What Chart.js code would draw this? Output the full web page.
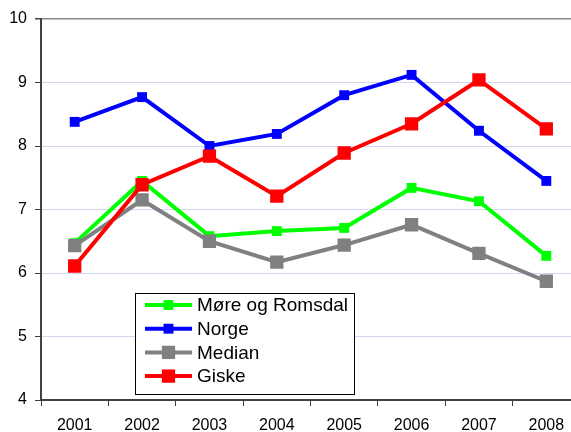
<!DOCTYPE html>
<html>
<head>
<meta charset="utf-8">
<script src="https://cdn.jsdelivr.net/npm/chart.js@4/dist/chart.umd.min.js"></script>
<style>
  html, body { margin: 0; padding: 0; background: #fff; overflow: hidden; }
  #wrap { position: relative; width: 590px; height: 432px; }
</style>
</head>
<body>
<div id="wrap"><canvas id="chart"></canvas></div>
<script>
const years = ['2001', '2002', '2003', '2004', '2005', '2006', '2007', '2008'];
const moreRomsdal = [6.47, 7.45, 6.58, 6.66, 6.71, 7.34, 7.13, 6.27];
const norge       = [8.38, 8.77, 8.00, 8.19, 8.80, 9.12, 8.24, 7.45];
const median      = [6.43, 7.15, 6.50, 6.17, 6.44, 6.76, 6.31, 5.87];
const giske       = [6.11, 7.39, 7.84, 7.21, 7.89, 8.35, 9.04, 8.27];

const FONT = "'Liberation Sans', Arial, sans-serif";

function series(label, data, color, radius, order) {
  return {
    label, data, order,
    borderColor: color,
    backgroundColor: color,
    pointBackgroundColor: color,
    pointBorderWidth: 0,
    pointStyle: 'rect',
    pointRadius: radius,
    pointHoverRadius: radius,
    borderWidth: 4,
    tension: 0,
    fill: false,
  };
}

// legend box drawn inside the plot, like the original
const boxLegend = {
  id: 'boxLegend',
  afterDraw(chart) {
    const ctx = chart.ctx;
    const x = 135.5, y = 293.5, w = 219, h = 101;
    ctx.save();
    ctx.fillStyle = '#fff';
    ctx.fillRect(x, y, w, h);
    ctx.strokeStyle = '#000';
    ctx.lineWidth = 1;
    ctx.strokeRect(x, y, w, h);
    ctx.font = '19px ' + FONT;
    ctx.textBaseline = 'middle';
    [0, 1, 2, 3].forEach((i) => {
      const ds = chart.data.datasets[i];
      const cy = 305 + i * 23.7;
      ctx.strokeStyle = ds.borderColor;
      ctx.lineWidth = 4;
      ctx.beginPath();
      ctx.moveTo(145, cy);
      ctx.lineTo(192, cy);
      ctx.stroke();
      const s = ds.pointRadius * Math.SQRT2;
      ctx.fillStyle = ds.borderColor;
      ctx.fillRect(168.5 - s / 2, cy - s / 2, s, s);
      ctx.fillStyle = '#000';
      ctx.fillText(ds.label, 197, cy + 1);
    });
    ctx.restore();
  },
};

new Chart(document.getElementById('chart').getContext('2d'), {
  type: 'line',
  data: {
    labels: years,
    datasets: [
      series('Møre og Romsdal', moreRomsdal, '#00ff00', 7, 3),
      series('Norge', norge, '#0000ff', 7, 2),
      series('Median', median, '#808080', 9.4, 1),
      series('Giske', giske, '#ff0000', 9.4, 0),
    ],
  },
  options: {
    responsive: true,
    maintainAspectRatio: false,
    animation: false,
    layout: { padding: { top: 19, right: 10, left: 0, bottom: 0 } },
    plugins: {
      legend: { display: false },
      tooltip: { enabled: false },
    },
    scales: {
      x: {
        offset: true,
        grid: { offset: true, drawOnChartArea: false, drawTicks: true, tickLength: 6, tickColor: '#404040' },
        border: { display: true, color: '#404040', width: 2 },
        ticks: { color: '#000', font: { family: FONT, size: 16 }, padding: 10, maxRotation: 0 },
        afterFit: (s) => { s.height = 32; },
      },
      y: {
        min: 4,
        max: 10,
        ticks: { stepSize: 1, color: '#000', font: { family: FONT, size: 16 }, padding: 8 },
        grid: {
          color: (c) => (c.tick && c.tick.value === 10 ? '#888888' : '#d4d4f6'),
          lineWidth: (c) => (c.tick && c.tick.value === 10 ? 1.5 : 1),
          tickLength: 6,
          tickColor: '#404040',
        },
        border: { display: true, color: '#404040', width: 2 },
        afterFit: (s) => { s.width = 41; },
      },
    },
  },
  plugins: [boxLegend],
});
</script>
</body>
</html>
